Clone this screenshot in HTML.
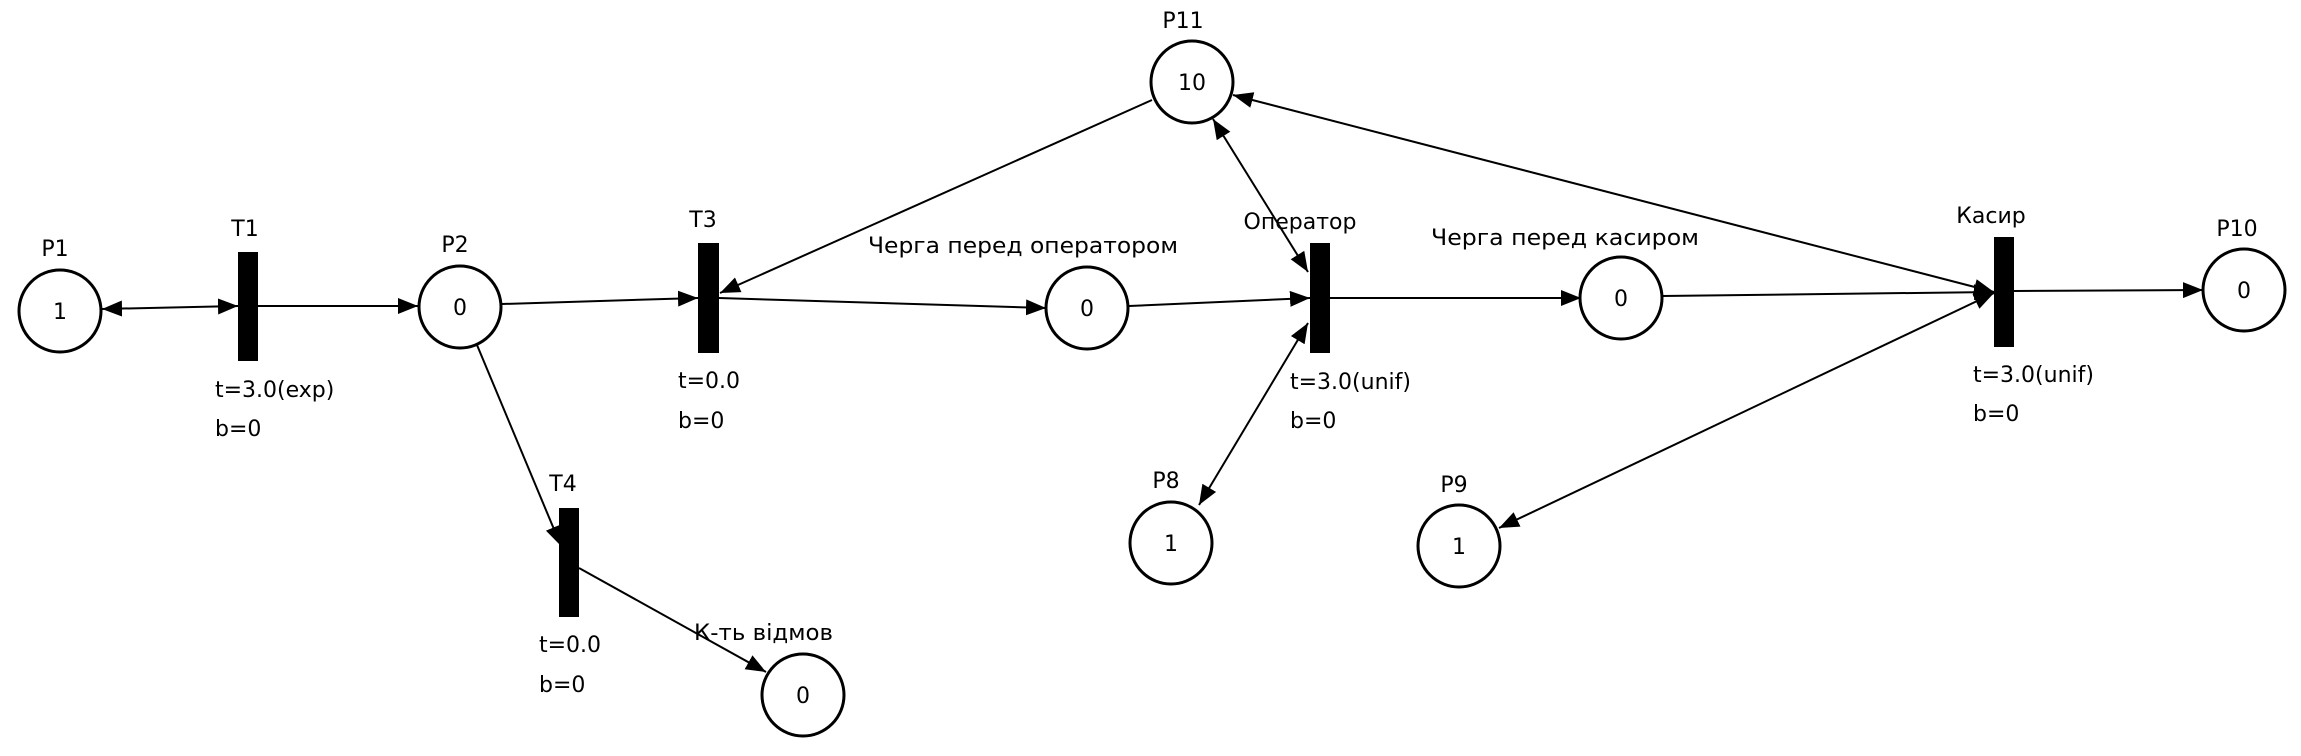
<!DOCTYPE html>
<html><head><meta charset="utf-8"><style>
html,body{margin:0;padding:0;background:#fff;}
svg{display:block;}
text{font-family:"DejaVu Sans","Liberation Sans",sans-serif;font-size:22px;fill:#000;}
</style></head><body>
<svg width="2301" height="756" viewBox="0 0 2301 756" xmlns="http://www.w3.org/2000/svg">
<defs>
<marker id="a" viewBox="0 0 20 16" refX="20" refY="8" markerWidth="20" markerHeight="16" markerUnits="userSpaceOnUse" orient="auto-start-reverse">
<path d="M0,0 L20,8 L0,16 z" fill="#000"/></marker>
</defs>
<g stroke="#000" stroke-width="2" fill="none">
<line x1="102" y1="309" x2="238" y2="306" marker-start="url(#a)" marker-end="url(#a)"/>
<line x1="258" y1="306" x2="418" y2="306" marker-end="url(#a)"/>
<line x1="502" y1="304" x2="698" y2="298" marker-end="url(#a)"/>
<line x1="1152" y1="100" x2="720" y2="293" marker-end="url(#a)"/>
<line x1="719" y1="298" x2="1046" y2="308" marker-end="url(#a)"/>
<line x1="1129" y1="306" x2="1310" y2="298" marker-end="url(#a)"/>
<line x1="1213" y1="119" x2="1308" y2="272" marker-start="url(#a)" marker-end="url(#a)"/>
<line x1="1199" y1="505" x2="1308" y2="323" marker-start="url(#a)" marker-end="url(#a)"/>
<line x1="1330" y1="298" x2="1581" y2="298" marker-end="url(#a)"/>
<line x1="1662" y1="296" x2="1994" y2="292" marker-end="url(#a)"/>
<line x1="1233" y1="95" x2="1994" y2="292" marker-start="url(#a)" marker-end="url(#a)"/>
<line x1="1499" y1="528" x2="1994" y2="293" marker-start="url(#a)" marker-end="url(#a)"/>
<line x1="2014" y1="291" x2="2203" y2="290" marker-end="url(#a)"/>
<line x1="477" y1="345" x2="561" y2="546" marker-end="url(#a)"/>
<line x1="579" y1="568" x2="766" y2="672" marker-end="url(#a)"/>
</g>
<g stroke="#000" stroke-width="3" fill="#fff">
<circle cx="60" cy="311" r="41"/>
<circle cx="460" cy="307" r="41"/>
<circle cx="1087" cy="308" r="41"/>
<circle cx="1192" cy="82" r="41"/>
<circle cx="1621" cy="298" r="41"/>
<circle cx="2244" cy="290" r="41"/>
<circle cx="1171" cy="543" r="41"/>
<circle cx="1459" cy="546" r="41"/>
<circle cx="803" cy="695" r="41"/>
</g>
<g fill="#000">
<rect x="238" y="252" width="20" height="109"/>
<rect x="698" y="243" width="21" height="110"/>
<rect x="559" y="508" width="20" height="109"/>
<rect x="1310" y="243" width="20" height="110"/>
<rect x="1994" y="237" width="20" height="110"/>
</g>
<g text-anchor="middle">
<text x="60" y="319">1</text>
<text x="460" y="315">0</text>
<text x="1087" y="316">0</text>
<text x="1192" y="90">10</text>
<text x="1621" y="306">0</text>
<text x="2244" y="298">0</text>
<text x="1171" y="551">1</text>
<text x="1459" y="554">1</text>
<text x="803" y="703">0</text>
<text x="55" y="256">P1</text>
<text x="245" y="236">T1</text>
<text x="455" y="252">P2</text>
<text x="703" y="227">T3</text>
<text x="563" y="491">T4</text>
<text x="1183" y="28">P11</text>
<text x="1300" y="229">Оператор</text>
<text x="1991" y="223">Касир</text>
<text x="2237" y="236">P10</text>
<text x="1166" y="488">P8</text>
<text x="1454" y="492">P9</text>
</g>
<text x="868" y="253" textLength="310" lengthAdjust="spacingAndGlyphs">Черга перед оператором</text>
<text x="1431" y="245" textLength="268" lengthAdjust="spacingAndGlyphs">Черга перед касиром</text>
<text x="694" y="640" textLength="139" lengthAdjust="spacingAndGlyphs">К-ть відмов</text>
<text x="215" y="397">t=3.0(exp)</text>
<text x="215" y="436">b=0</text>
<text x="678" y="388">t=0.0</text>
<text x="678" y="428">b=0</text>
<text x="539" y="652">t=0.0</text>
<text x="539" y="692">b=0</text>
<text x="1290" y="389">t=3.0(unif)</text>
<text x="1290" y="428">b=0</text>
<text x="1973" y="382">t=3.0(unif)</text>
<text x="1973" y="421">b=0</text>
</svg>
</body></html>
